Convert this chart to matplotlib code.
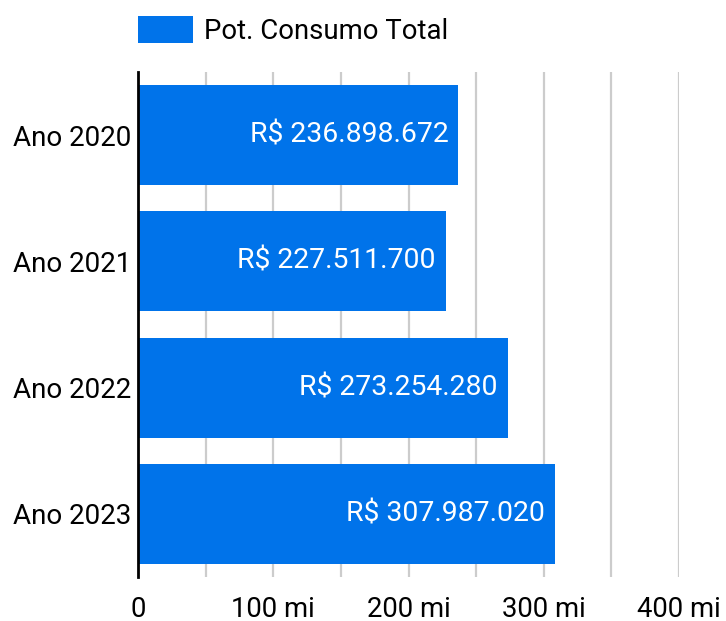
import matplotlib
matplotlib.use("Agg")
import matplotlib.pyplot as plt
from matplotlib.patches import Patch

plt.rcParams['font.family'] = ['Roboto', 'DejaVu Sans']

categories = ["Ano 2020", "Ano 2021", "Ano 2022", "Ano 2023"]
values = [236898672, 227511700, 273254280, 307987020]
series_name = "Pot. Consumo Total"
xticks = [0, 100e6, 200e6, 300e6, 400e6]
xtick_labels = ["0", "100 mi", "200 mi", "300 mi", "400 mi"]

blue = "#0073ea"
fs = 20.0

fig = plt.figure(figsize=(7.26, 6.21), dpi=100)
ax = fig.add_axes([138 / 726, 44 / 621, 541 / 726, 505 / 621])

# gridlines every 50 mi, labels only every 100 mi
for g in range(0, 401, 50):
    ax.axvline(g * 1e6, color="#cccccc", lw=1.6, zorder=0)

ypos = list(range(len(categories)))
ax.barh(ypos, values, height=0.794, color=blue, zorder=2)

for y, v in zip(ypos, values):
    txt = "R$ " + f"{v:,}".replace(",", ".")
    ax.text(v - 7.4e6, y, txt, color="white", fontsize=20.4,
            ha="right", va="center", zorder=3)

ax.set_xlim(0, 400e6)
ax.set_ylim(3.5, -0.5)
ax.set_yticks(ypos)
ax.set_yticklabels(categories, fontsize=fs)
ax.set_xticks(xticks)
ax.set_xticklabels(xtick_labels, fontsize=19.8)
ax.tick_params(length=0, pad=5)
ax.tick_params(axis="x", pad=14)

for s in ["top", "right", "bottom"]:
    ax.spines[s].set_visible(False)
ax.spines["left"].set_color("black")
ax.spines["left"].set_linewidth(2)
ax.spines["left"].set_zorder(4)

handle = Patch(facecolor=blue, edgecolor="none")
fig.legend([handle], [series_name], loc="upper left",
           bbox_to_anchor=(138 / 726, 1 - 16 / 621), frameon=False,
           borderpad=0, borderaxespad=0,
           fontsize=19.8, handlelength=2.0, handleheight=1.12, handletextpad=0.4)

fig.savefig("out.png", dpi=100)
